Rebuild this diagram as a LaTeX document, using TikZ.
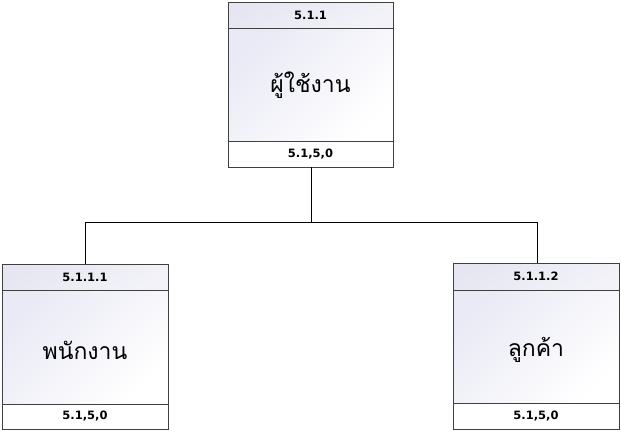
\documentclass[tikz,border=0pt]{standalone}
\usepackage{fontspec}
\setmainfont{DejaVu Sans}
\newfontfamily\thaifont[Script=Thai]{Loma}
\definecolor{hdrc}{HTML}{E6E6F2}
\definecolor{bodyc}{HTML}{E9EAF5}
\definecolor{edgec}{HTML}{404040}
\tikzset{
  x=1pt,y=-1pt,
  hdrbox/.style={draw=edgec,line width=1pt,top color=hdrc,bottom color=hdrc!50!white,shading angle=30},
  bodybox/.style={draw=edgec,line width=1pt,top color=bodyc,bottom color=white,shading angle=45},
  footbox/.style={draw=edgec,line width=1pt,fill=white},
  codetext/.style={font=\fontsize{11.5}{13}\selectfont\bfseries,text=black},
  nametext/.style={font=\thaifont\fontsize{23}{27}\selectfont,text=black},
  conn/.style={draw=black,line width=1pt}
}
\begin{document}
\begin{tikzpicture}
\useasboundingbox (0,0) rectangle (621,434);
% top box
\path[bodybox] (228,28) rectangle (393,141);
\path[hdrbox] (228,2) rectangle (393,28);
\path[footbox] (228,141) rectangle (393,167);
\node[codetext] (t1) at (310.5,15) {5.1.1};
\node[nametext] (t2) at (310.5,85) {ผู้ใช้งาน};
\node[codetext] (t3) at (310.5,154) {5.1,5,0};
\coordinate (topb) at (311,167);
% left box
\path[bodybox] (2,290) rectangle (168,404);
\path[hdrbox] (2,264) rectangle (168,290);
\path[footbox] (2,404) rectangle (168,429);
\node[codetext] (l1) at (85,277) {5.1.1.1};
\node[nametext] (l2) at (85,350) {พนักงาน};
\node[codetext] (l3) at (85,416.5) {5.1,5,0};
\coordinate (leftt) at (85,264);
% right box
\path[bodybox] (453,290) rectangle (619,403);
\path[hdrbox] (453,263) rectangle (619,290);
\path[footbox] (453,403) rectangle (619,429);
\node[codetext] (r1) at (536,276.5) {5.1.1.2};
\node[nametext] (r2) at (536,350) {ลูกค้า};
\node[codetext] (r3) at (536,416) {5.1,5,0};
\coordinate (rightt) at (537,263);
% connectors
\coordinate (mid) at (311,222.5);
\draw[conn] (topb) -- (mid);
\draw[conn] (leftt) |- (mid) -| (rightt);
\end{tikzpicture}
\end{document}
